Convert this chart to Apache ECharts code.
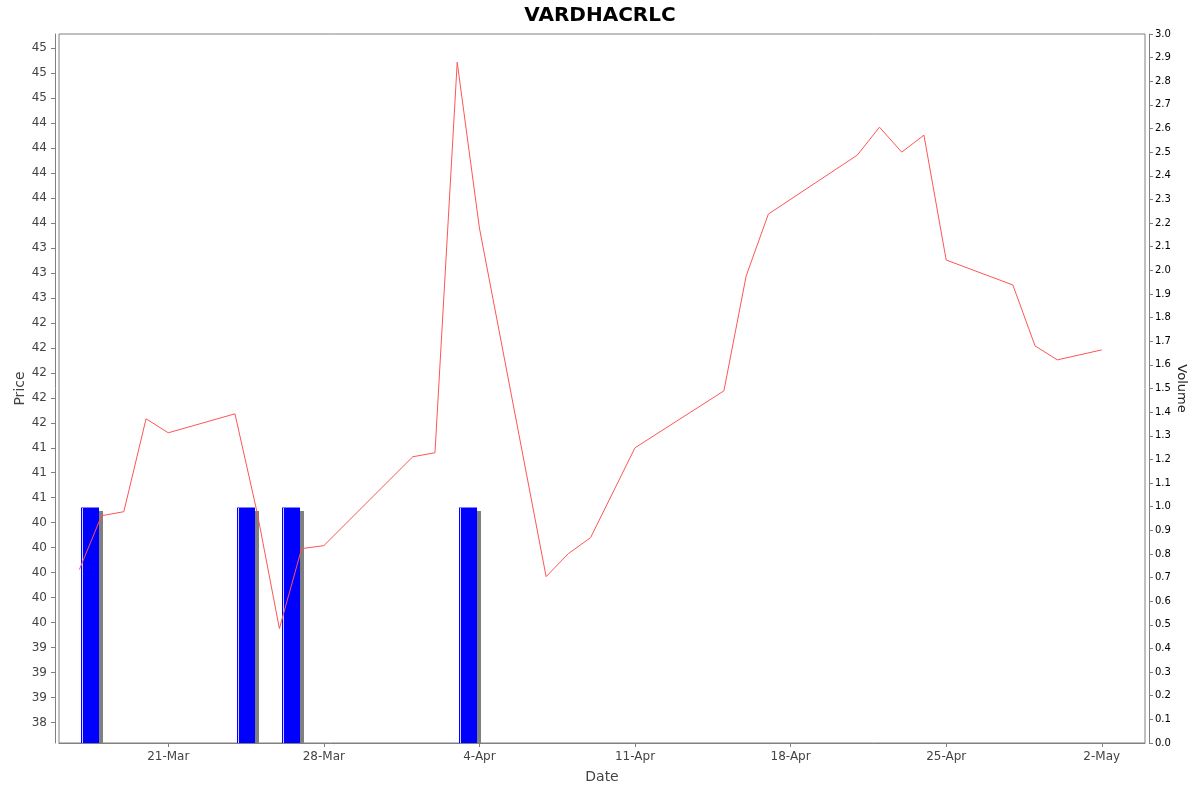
<!DOCTYPE html>
<html>
<head>
<meta charset="utf-8">
<script src="https://cdn.jsdelivr.net/npm/echarts@6/dist/echarts.min.js"></script>
<style>
  html, body { margin: 0; padding: 0; background: #fff; }
  #main { width: 1200px; height: 792px; }
</style>
</head>
<body>
<div id="main"></div>
<script>
// price (close) per trading day
var priceDates = ['2025-03-17', '2025-03-18', '2025-03-19', '2025-03-20', '2025-03-21',
    '2025-03-24', '2025-03-25', '2025-03-26', '2025-03-27', '2025-03-28',
    '2025-04-01', '2025-04-02', '2025-04-03', '2025-04-04',
    '2025-04-07', '2025-04-08', '2025-04-09', '2025-04-11',
    '2025-04-15', '2025-04-16', '2025-04-17',
    '2025-04-21', '2025-04-22', '2025-04-23', '2025-04-24', '2025-04-25',
    '2025-04-28', '2025-04-29', '2025-04-30', '2025-05-02'];
var prices = [40.03, 40.57, 40.61, 41.54, 41.40,
    41.59, 40.60, 39.44, 40.24, 40.27,
    41.16, 41.20, 45.11, 43.45,
    39.96, 40.19, 40.35, 41.25,
    41.82, 42.97, 43.59,
    44.18, 44.46, 44.21, 44.38, 43.13,
    42.88, 42.27, 42.13, 42.23];

// volume bars
var volumeDates = ['2025-03-17', '2025-03-24', '2025-03-26', '2025-04-03'];
var volumes = [1.0, 1.0, 1.0, 1.0];

// tick labels
var priceTicks = [38.5, 38.75, 39, 39.25, 39.5, 39.75, 40, 40.25, 40.5, 40.75,
    41, 41.25, 41.5, 41.75, 42, 42.25, 42.5, 42.75, 43, 43.25,
    43.5, 43.75, 44, 44.25, 44.5, 44.75, 45, 45.25];
var priceTickLabels = ['38', '39', '39', '39', '40', '40', '40', '40', '40', '41',
    '41', '41', '42', '42', '42', '42', '42', '43', '43', '43',
    '44', '44', '44', '44', '44', '45', '45', '45'];
var dateTicks = ['2025-03-21', '2025-03-28', '2025-04-04', '2025-04-11',
    '2025-04-18', '2025-04-25', '2025-05-02'];
var monthNames = ['Jan', 'Feb', 'Mar', 'Apr', 'May', 'Jun', 'Jul', 'Aug', 'Sep', 'Oct', 'Nov', 'Dec'];

var DAY = 24 * 3600 * 1000;
var lineData = priceDates.map(function (d, i) { return [Date.parse(d), prices[i]]; });
var barData = volumeDates.map(function (d, i) { return [Date.parse(d) + DAY / 2, volumes[i]]; });
var dateTickValues = dateTicks.map(function (d) { return Date.parse(d); });

// bar with a flat grey drop shadow and a light edge, like the original renderer
function renderVolumeBar(params, api) {
    var top = api.coord([api.value(0), api.value(1)]);
    var base = api.coord([api.value(0), 0]);
    var w = 18;
    var x = Math.round(top[0] - w / 2);
    var y = Math.round(top[1]);
    var h = Math.round(base[1]) - y;
    return {
        type: 'group',
        children: [
            { type: 'rect', shape: { x: x + 4, y: y + 4, width: w, height: h - 4 }, style: { fill: '#808080' } },
            { type: 'rect', shape: { x: x, y: y, width: w, height: h }, style: { fill: '#0000ff' } },
            { type: 'rect', shape: { x: x + 1, y: y, width: 1, height: h }, style: { fill: '#d0d0ff' } },
            { type: 'rect', shape: { x: x, y: y, width: w, height: 1 }, style: { fill: '#8080ff' } }
        ]
    };
}

var myChart = echarts.init(document.getElementById('main'));
var option = {
    animation: false,
    backgroundColor: '#fff',
    textStyle: { fontFamily: 'DejaVu Sans' },
    title: {
        text: 'VARDHACRLC',
        left: 'center',
        top: 1,
        textStyle: { fontFamily: 'DejaVu Sans', fontSize: 20, fontWeight: 'bold', color: '#000' }
    },
    grid: {
        left: 59, right: 55, top: 34, bottom: 49,
        outerBoundsMode: 'none',
        containLabel: false,
        show: true, borderColor: '#808080', borderWidth: 1, backgroundColor: '#fff'
    },
    xAxis: {
        type: 'value',
        min: Date.parse('2025-03-16') + 2 * 3600 * 1000,
        max: Date.parse('2025-05-03') + 22.7 * 3600 * 1000,
        name: 'Date',
        nameLocation: 'middle',
        nameGap: 27,
        nameTextStyle: { fontSize: 14, color: '#444' },
        axisLine: { show: true, lineStyle: { color: '#808080' } },
        axisTick: { show: true, length: 4, customValues: dateTickValues, lineStyle: { color: '#808080' } },
        axisLabel: {
            customValues: dateTickValues,
            fontSize: 12, color: '#444', margin: 8,
            formatter: function (v) {
                var d = new Date(v);
                return d.getUTCDate() + '-' + monthNames[d.getUTCMonth()];
            }
        },
        splitLine: { show: false }
    },
    yAxis: [{
        type: 'value',
        position: 'left',
        offset: 4,
        min: 38.294,
        max: 45.393,
        name: 'Price',
        nameLocation: 'middle',
        nameMoveOverlap: false,
        nameGap: 28,
        nameTextStyle: { fontSize: 14, color: '#444' },
        axisLine: { show: true, lineStyle: { color: '#808080' } },
        axisTick: { show: true, length: 4, customValues: priceTicks, lineStyle: { color: '#808080' } },
        axisLabel: {
            customValues: priceTicks,
            fontSize: 12, color: '#444', margin: 8,
            formatter: function (v) {
                for (var i = 0; i < priceTicks.length; i++) {
                    if (Math.abs(priceTicks[i] - v) < 1e-6) return priceTickLabels[i];
                }
                return '';
            }
        },
        splitLine: { show: false }
    }, {
        type: 'value',
        position: 'right',
        offset: 4,
        min: 0,
        max: 3,
        interval: 0.1,
        name: 'Volume',
        nameLocation: 'middle',
        nameMoveOverlap: false,
        nameRotate: -90,
        nameGap: 26,
        nameTextStyle: { fontSize: 13, color: '#222' },
        axisLine: { show: true, lineStyle: { color: '#808080' } },
        axisTick: { show: true, length: 4, lineStyle: { color: '#808080' } },
        axisLabel: {
            fontSize: 10, color: '#000', margin: 6,
            formatter: function (v) { return v.toFixed(1); }
        },
        splitLine: { show: false }
    }],
    series: [{
        name: 'Volume',
        type: 'custom',
        yAxisIndex: 1,
        z: 2,
        renderItem: renderVolumeBar,
        encode: { x: 0, y: 1 },
        data: barData
    }, {
        name: 'Price',
        type: 'line',
        yAxisIndex: 0,
        z: 5,
        showSymbol: false,
        symbol: 'none',
        data: lineData,
        lineStyle: { color: '#ff5555', width: 1 }
    }]
};
myChart.setOption(option);
</script>
</body>
</html>
